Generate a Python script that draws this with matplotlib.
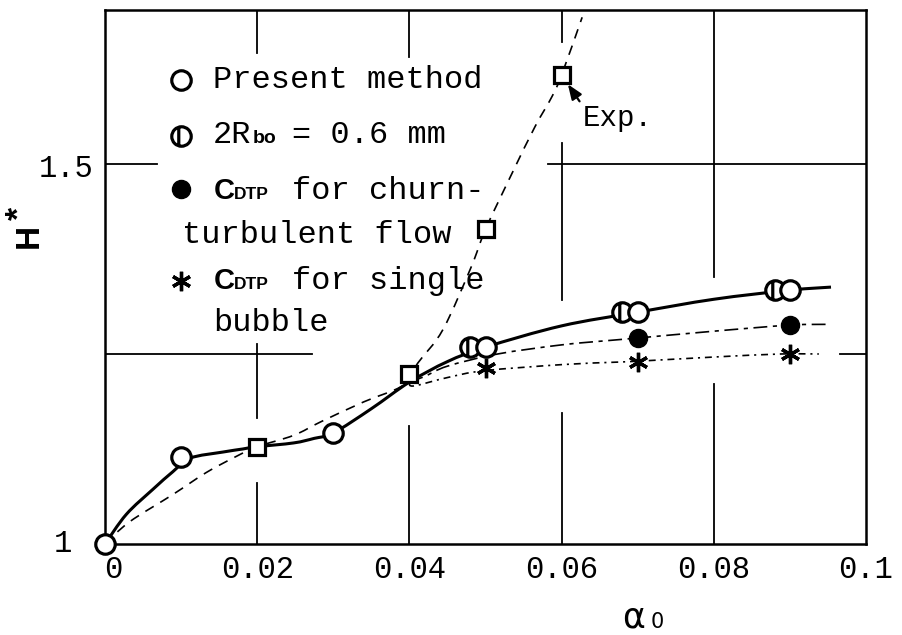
import numpy as np
import matplotlib
matplotlib.use("Agg")
import matplotlib.pyplot as plt
from matplotlib.path import Path
from matplotlib.patches import PathPatch
from matplotlib.lines import Line2D
import matplotlib.transforms as mtransforms

plt.rcParams["font.family"] = ["Liberation Mono", "DejaVu Sans"]
plt.rcParams["lines.scale_dashes"] = False

# ---- data -------------------------------------------------------------
X_TICKS = [0, 0.02, 0.04, 0.06, 0.08, 0.1]
X_TICK_LABELS = ["0", "0.02", "0.04", "0.06", "0.08", "0.1"]
Y_TICKS = [1.0, 1.5]
Y_TICK_LABELS = ["1", "1.5"]

# present method (open circles)
PM_X = [0.0, 0.01, 0.03, 0.05, 0.07, 0.09]
PM_Y = [1.0, 1.115, 1.146, 1.259, 1.305, 1.334]
# 2Rbo = 0.6 mm (half-marked circles)
HALF_X = [0.048, 0.068, 0.088]
HALF_Y = [1.259, 1.305, 1.334]
# experiment (squares)
EXP_X = [0.02, 0.04, 0.05, 0.06]
EXP_Y = [1.128, 1.224, 1.414, 1.617]
# CDTP for churn-turbulent flow (filled circles)
CHURN_X = [0.07, 0.09]
CHURN_Y = [1.271, 1.288]
# CDTP for single bubble (asterisks)
SB_X = [0.05, 0.07, 0.09]
SB_Y = [1.232, 1.2395, 1.25]

# fitted curves
PM_CURVE_X = [0.0, 0.0028, 0.0063, 0.0089, 0.0112, 0.0155, 0.0181, 0.02, 0.0248,
              0.0275, 0.03, 0.035, 0.04, 0.045, 0.05, 0.06, 0.07, 0.08, 0.09, 0.0954]
PM_CURVE_Y = [1.0, 1.039, 1.072, 1.095, 1.113, 1.121, 1.125, 1.128, 1.133,
              1.139, 1.146, 1.178, 1.213, 1.240, 1.259, 1.287, 1.305, 1.322, 1.334, 1.338]
EXP_CURVE_X = [0.0, 0.0032, 0.0089, 0.0133, 0.0172, 0.02, 0.0248, 0.0284, 0.034,
               0.0392, 0.0411, 0.0444, 0.0481, 0.05, 0.0535, 0.0565, 0.0587, 0.06, 0.0627]
EXP_CURVE_Y = [1.0, 1.029, 1.065, 1.094, 1.115, 1.128, 1.143, 1.161, 1.187,
               1.209, 1.238, 1.282, 1.364, 1.414, 1.488, 1.549, 1.588, 1.617, 1.693]
CHURN_CURVE_X = [0.04, 0.0419, 0.045, 0.0516, 0.06, 0.0665, 0.07, 0.08, 0.09, 0.0954]
CHURN_CURVE_Y = [1.214, 1.220, 1.234, 1.250, 1.262, 1.268, 1.271, 1.280, 1.288, 1.289]
SB_CURVE_X = [0.04, 0.0406, 0.045, 0.0498, 0.06, 0.0665, 0.07, 0.08, 0.0888, 0.0938]
SB_CURVE_Y = [1.212, 1.208, 1.219, 1.228, 1.236, 1.239, 1.2405, 1.246, 1.250, 1.250]

X_MIN, X_MAX = 0.0, 0.1
Y_MIN, Y_MAX = 1.0, 1.7026

# ---- figure -----------------------------------------------------------
W, H = 902, 635
fig = plt.figure(figsize=(W / 100, H / 100), dpi=100)
ax = fig.add_axes([105 / W, 1 - 544 / H, (866 - 105) / W, (544 - 10) / H])
ax.set_xlim(X_MIN, X_MAX)
ax.set_ylim(Y_MIN, Y_MAX)
for sp in ax.spines.values():
    sp.set_linewidth(1.8)

ax.set_xticks(X_TICKS)
ax.set_xticklabels(X_TICK_LABELS)
ax.set_yticks(Y_TICKS)
ax.set_yticklabels(Y_TICK_LABELS)
ax.tick_params(length=0, labelsize=22)
ax.tick_params(axis="x", pad=8)
ax.tick_params(axis="y", pad=8)


def shift(label, dx, dy):
    label.set_transform(label.get_transform() +
                        mtransforms.ScaledTranslation(dx / 100, dy / 100, fig.dpi_scale_trans))


shift(ax.get_xticklabels()[0], 8, 0)
shift(ax.get_yticklabels()[0], -22, 4)
shift(ax.get_yticklabels()[1], 0, -2)

# broken grid lines
grid_kw = dict(color="black", lw=1.3, zorder=1)
for x, segs in [(0.02, [(1.646, Y_MAX), (1.166, 1.263), (1.0, 1.080)]),
                (0.04, [(1.641, Y_MAX), (1.0, 1.155)]),
                (0.06, [(1.66, Y_MAX), (1.321, 1.528), (1.0, 1.172)]),
                (0.08, [(1.351, Y_MAX), (1.0, 1.21)])]:
    for y0, y1 in segs:
        ax.plot([x, x], [y0, y1], **grid_kw)
for y, segs in [(1.5, [(0.0, 0.0068), (0.0582, 0.1)]),
                (1.25, [(0.0, 0.0272), (0.0966, 0.1)])]:
    for x0, x1 in segs:
        ax.plot([x0, x1], [y, y], **grid_kw)


def smooth_path(xs, ys):
    pts = np.column_stack([xs, ys])
    n = len(pts)
    verts = [pts[0]]
    codes = [Path.MOVETO]
    for i in range(n - 1):
        p0 = pts[max(i - 1, 0)]
        p1 = pts[i]
        p2 = pts[i + 1]
        p3 = pts[min(i + 2, n - 1)]
        verts += [p1 + (p2 - p0) / 6, p2 - (p3 - p1) / 6, p2]
        codes += [Path.CURVE4] * 3
    return Path(verts, codes)


def curve(xs, ys, lw, ls):
    ax.add_patch(PathPatch(smooth_path(xs, ys), fill=False, ec="black", lw=lw,
                           linestyle=ls, zorder=2, capstyle="butt"))


curve(PM_CURVE_X, PM_CURVE_Y, 2.2, "-")
curve(EXP_CURVE_X, EXP_CURVE_Y, 1.2, (0, (7, 5.5)))
curve(CHURN_CURVE_X, CHURN_CURVE_Y, 1.2, (0, (10, 4, 3, 4)))
curve(SB_CURVE_X, SB_CURVE_Y, 1.2, (0, (5, 3.5, 1.5, 3.5)))

# marker styles
half_marker = Path.make_compound_path(
    Path.unit_circle(),
    Path([[-0.28, -0.95], [-0.28, 0.95]], [Path.MOVETO, Path.LINETO]))
asterisk = (6, 2, 0)

open_kw = dict(marker="o", ms=14, mfc="white", mec="black", mew=2.3, ls="none")
half_kw = dict(marker=half_marker, ms=14, mfc="white", mec="black", mew=2.3, ls="none")
square_kw = dict(marker="s", ms=11.5, mfc="white", mec="black", mew=2.3, ls="none")
fill_kw = dict(marker="o", ms=13, mfc="black", mec="black", mew=1, ls="none")
star_kw = dict(marker=asterisk, ms=14, mec="black", mew=2.4, ls="none")

ax.plot(HALF_X, HALF_Y, zorder=4, clip_on=False, **half_kw)
ax.plot(PM_X, PM_Y, zorder=5, clip_on=False, **open_kw)
ax.plot(EXP_X, EXP_Y, zorder=5, clip_on=False, **square_kw)
ax.plot(CHURN_X, CHURN_Y, zorder=5, **fill_kw)
ax.plot(SB_X, SB_Y, zorder=5, **star_kw)

# annotation of the experimental curve
ax.annotate("Exp.", xy=(EXP_X[-1], EXP_Y[-1]), xytext=(15.5, -36.5),
            textcoords="offset points", fontsize=21, ha="left", va="baseline",
            arrowprops=dict(arrowstyle="-|>,head_length=0.9,head_width=0.35",
                            mutation_scale=10, color="black", lw=1.6,
                            shrinkA=1, shrinkB=8, relpos=(0.0, 0.9)),
            zorder=6)


# ---- legend (drawn as free text) ---------------------------------------
def P(x, y):
    return x / W, 1 - y / H


def legend_marker(x, y, kw):
    fig.add_artist(Line2D([P(x, y)[0]], [P(x, y)[1]], transform=fig.transFigure, **kw))


def t(x, y, s, **kw):
    kw.setdefault("fontsize", 23)
    fig.text(*P(x, y), s, ha="left", va="baseline", **kw)


bold_sans = dict(family="Liberation Sans", weight="bold")

legend_marker(181, 80, open_kw)
t(213, 88, "Present method")

legend_marker(181, 136, half_kw)
t(213, 143, "2R")
t(253, 143, "bo", fontsize=14, **bold_sans)
t(292, 143, "= 0.6 mm")

legend_marker(181, 189, fill_kw)
t(214, 199, "C", fontsize=21, **bold_sans)
t(234, 199, "DTP", fontsize=12.5, **bold_sans)
t(292, 199, "for churn-")
t(182, 243, "turbulent flow")

legend_marker(181, 281, star_kw)
t(214, 289, "C", fontsize=21, **bold_sans)
t(234, 289, "DTP", fontsize=12.5, **bold_sans)
t(292, 289, "for single")
t(213, 331, "bubble")

# axis titles
fig.text(*P(622, 627), "\u03b1", fontsize=25, family="DejaVu Sans",
         ha="left", va="baseline")
fig.text(*P(651, 628), "0", fontsize=15, family="DejaVu Sans",
         ha="left", va="baseline")
fig.text(*P(29, 236), "H", fontsize=24, rotation=90, ha="center", va="center",
         **bold_sans)
fig.text(*P(20, 213), "*", fontsize=24, rotation=90, ha="center", va="center",
         **bold_sans)

fig.savefig("out.png", dpi=100, facecolor="white")
